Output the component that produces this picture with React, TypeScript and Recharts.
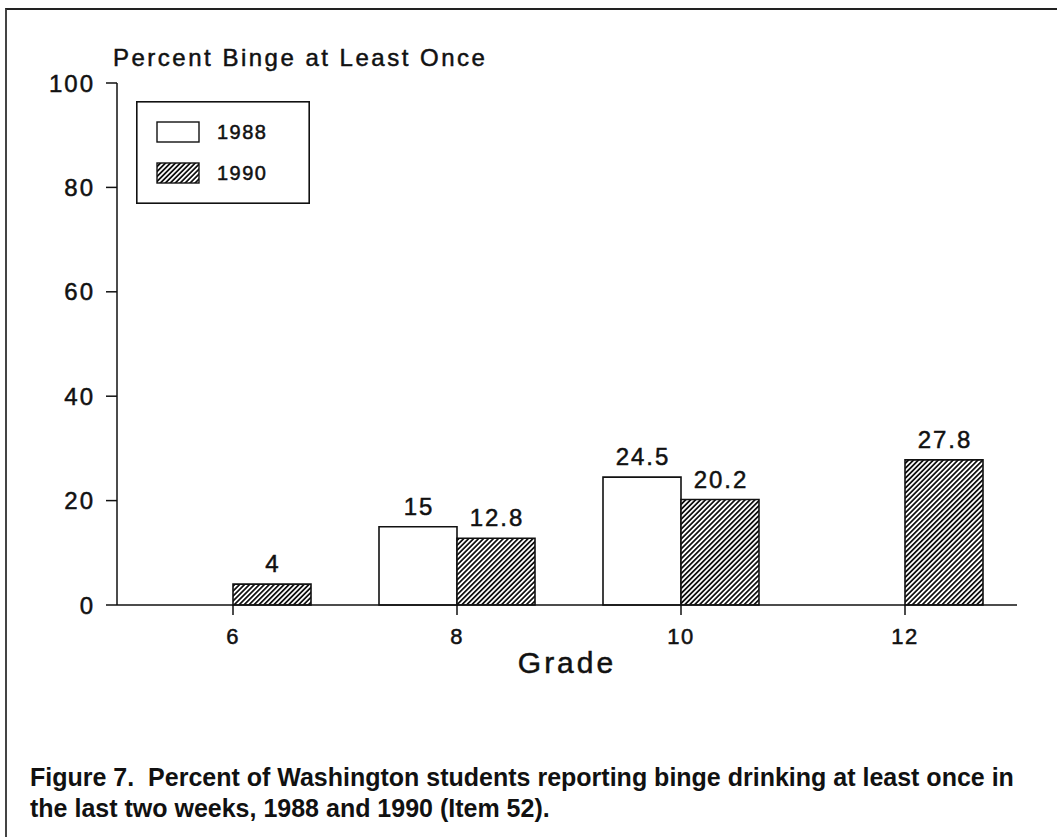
import { BarChart, Bar, XAxis, YAxis, Legend, LabelList } from "recharts";

const grades = ["6", "8", "10", "12"];
const pct1988: (number | null)[] = [null, 15, 24.5, null];
const pct1990: (number | null)[] = [4, 12.8, 20.2, 27.8];
const yTicks = [0, 20, 40, 60, 80, 100];

const data = grades.map((g, i) => ({
  grade: g,
  y1988: pct1988[i],
  y1990: pct1990[i],
}));

const FONT = '"Liberation Sans", Arial, Helvetica, sans-serif';
const INK = "#111";
// scanned type looks heavier than a plain regular face
const heavy = { stroke: INK, strokeWidth: 0.5 };

function ValueLabel(props: any) {
  const { x, y, width, value } = props;
  if (value == null) return null;
  return (
    <text
      x={x + width / 2 + 1}
      y={y - 12}
      textAnchor="middle"
      fontFamily={FONT}
      fontSize={24}
      letterSpacing={2}
      fill={INK}
      {...heavy}
    >
      {value}
    </text>
  );
}

function LegendBox() {
  return (
    <svg width={174} height={103} style={{ display: "block" }}>
      <defs>
        <pattern id="hatchLegend" patternUnits="userSpaceOnUse" width={3.5} height={3.5} patternTransform="rotate(45)">
          <rect width={3.5} height={3.5} fill="#fff" />
          <line x1={1.75} y1={0} x2={1.75} y2={3.5} stroke={INK} strokeWidth={1.8} />
        </pattern>
      </defs>
      <rect x={0.8} y={0.8} width={172.4} height={101.4} fill="#fff" stroke={INK} strokeWidth={1.6} />
      <rect x={21} y={21} width={42} height={20} fill="#fff" stroke={INK} strokeWidth={1.4} />
      <rect x={21} y={62} width={42} height={20} fill="url(#hatchLegend)" stroke={INK} strokeWidth={1.4} />
      <text x={81} y={38} fontFamily={FONT} fontSize={20} letterSpacing={1.5} fill={INK} {...heavy}>1988</text>
      <text x={81} y={79} fontFamily={FONT} fontSize={20} letterSpacing={1.5} fill={INK} {...heavy}>1990</text>
    </svg>
  );
}

export default function App() {
  return (
    <div
      style={{
        position: "absolute",
        left: 0,
        top: 0,
        width: 1057,
        height: 837,
        overflow: "hidden",
        background: "#fff",
        fontFamily: FONT,
        color: INK,
      }}
    >
      {/* scanned page frame */}
      <div
        style={{
          position: "absolute",
          left: 5,
          top: 8,
          width: 1200,
          height: 1000,
          borderTop: "2px solid #222",
          borderLeft: "2px solid #444",
        }}
      />

      <div style={{ position: "absolute", left: 0, top: 0 }}>
        <BarChart
          width={1057}
          height={837}
          data={data}
          margin={{ top: 83, right: 40, bottom: 202, left: 57 }}
          barSize={78}
          barGap={0}
        >
          <defs>
            <pattern id="hatch" patternUnits="userSpaceOnUse" width={3.5} height={3.5} patternTransform="rotate(45)">
              <rect width={3.5} height={3.5} fill="#fff" />
              <line x1={1.75} y1={0} x2={1.75} y2={3.5} stroke={INK} strokeWidth={1.8} />
            </pattern>
          </defs>
          <XAxis
            dataKey="grade"
            height={30}
            padding={{ left: 4, right: 0 }}
            tickSize={10}
            tickMargin={13}
            axisLine={{ stroke: INK, strokeWidth: 1.5 }}
            tickLine={{ stroke: INK, strokeWidth: 1.5 }}
            tick={{ fill: INK, fontSize: 22, fontFamily: FONT, letterSpacing: 1.5, ...heavy }}
            label={{
              value: "Grade",
              position: "bottom",
              offset: 17,
              fill: INK,
              fontSize: 30,
              fontFamily: FONT,
              letterSpacing: 3,
              ...heavy,
            }}
          />
          <YAxis
            domain={[0, 100]}
            ticks={yTicks}
            width={60}
            tickSize={11}
            tickMargin={11}
            axisLine={{ stroke: INK, strokeWidth: 1.5 }}
            tickLine={{ stroke: INK, strokeWidth: 1.5 }}
            tick={{ fill: INK, fontSize: 24, fontFamily: FONT, letterSpacing: 2, ...heavy }}
          />
          <Legend
            layout="horizontal"
            verticalAlign="middle"
            align="center"
            content={LegendBox}
            wrapperStyle={{ left: 136, top: 101, width: 174, height: 103 }}
          />
          <Bar dataKey="y1988" name="1988" fill="#fff" stroke={INK} strokeWidth={1.6} isAnimationActive={false}>
            <LabelList dataKey="y1988" content={ValueLabel} />
          </Bar>
          <Bar dataKey="y1990" name="1990" fill="url(#hatch)" stroke={INK} strokeWidth={1.6} isAnimationActive={false}>
            <LabelList dataKey="y1990" content={ValueLabel} />
          </Bar>
        </BarChart>
      </div>

      <div
        style={{
          position: "absolute",
          left: 113,
          top: 46,
          fontSize: 24,
          lineHeight: "24px",
          letterSpacing: 2.5,
          whiteSpace: "nowrap",
          WebkitTextStroke: "0.5px #111",
        }}
      >
        Percent Binge at Least Once
      </div>

      <div
        style={{
          position: "absolute",
          left: 30,
          top: 762,
          fontSize: 25,
          lineHeight: "31px",
          fontWeight: "bold",
          whiteSpace: "pre",
        }}
      >
        {"Figure 7.  Percent of Washington students reporting binge drinking at least once in\nthe last two weeks, 1988 and 1990 (Item 52)."}
      </div>
    </div>
  );
}
